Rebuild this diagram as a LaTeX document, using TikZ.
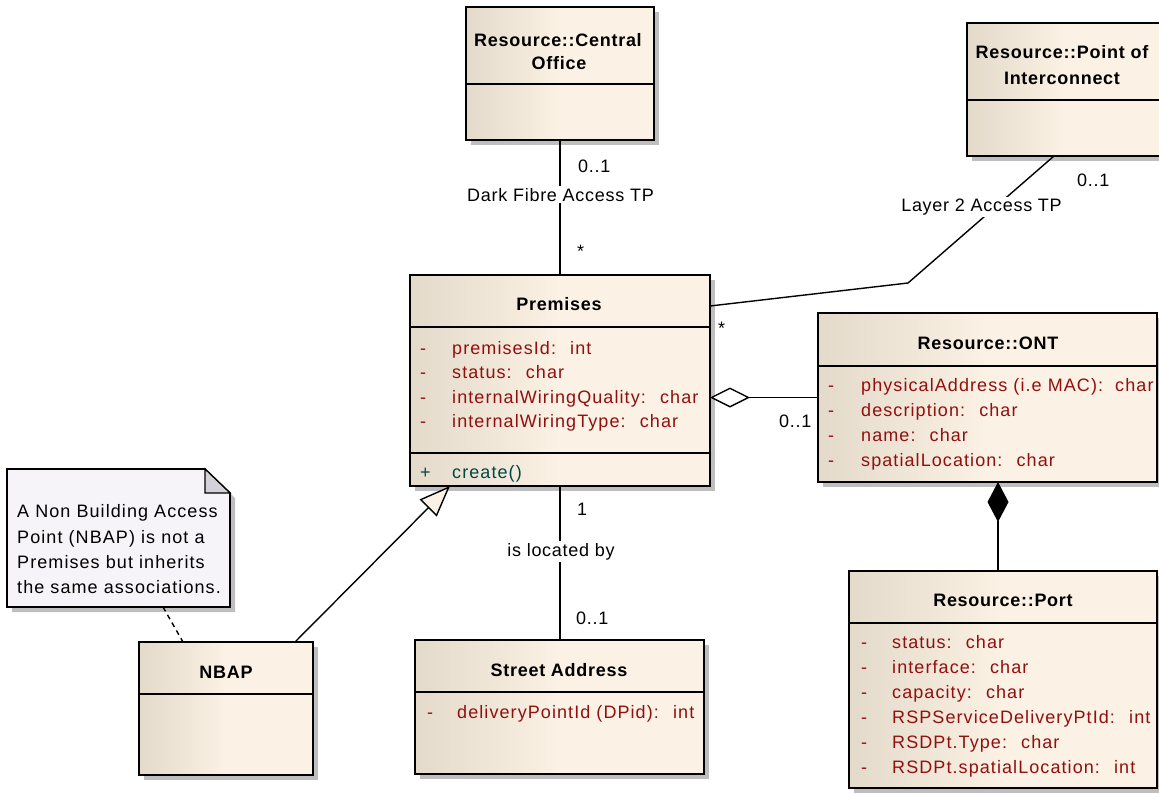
\documentclass[tikz,border=0pt]{standalone}
\usepackage{fontspec}
\setmainfont{Liberation Sans}[LetterSpace=4]
\newfontfamily\memberfont{Liberation Sans}[LetterSpace=6]
\usetikzlibrary{arrows.meta}

\definecolor{boxL}{RGB}{228,218,202}
\definecolor{boxR}{RGB}{251,241,228}
\definecolor{boxShadow}{RGB}{190,190,190}
\definecolor{attrRed}{RGB}{145,15,15}
\definecolor{operTeal}{RGB}{0,70,70}
\definecolor{noteFill}{RGB}{246,244,248}
\definecolor{noteFold}{RGB}{212,209,216}

% class box: name, x1, y1, x2, y2 (with its drop shadow)
\newcommand\umlbox[5]{%
  \fill[boxShadow] (#2+5,#3+5) rectangle (#4+5,#5+5);
  \node[classbox, minimum width={#4-#2}, minimum height={#5-#3}] (#1) at (#2,#3) {};}
% compartment line: box name, offset from the top
\newcommand\umldiv[2]{%
  \draw[divider] ([yshift=-#2pt]#1.north west) -- ([yshift=-#2pt]#1.north east);}
% member line: name, style, x of sign, x of text, baseline, sign, text
\newcommand\member[7]{%
  \node[#2] (#1-s) at (#3,#5) {#6};
  \node[#2] (#1) at (#4,#5) {#7};}

\begin{document}
\begin{tikzpicture}[x=1pt,y=-1pt,
  classbox/.style={draw, line width=1.6pt, inner sep=0pt, outer sep=0pt,
    anchor=north west, left color=boxL, right color=boxR, middle color=boxR},
  divider/.style={line width=1.4pt},
  txt/.style={inner sep=0pt, font=\fontsize{18}{22}\selectfont},
  memtxt/.style={inner sep=0pt, font=\memberfont\fontsize{18}{22}\selectfont},
  title/.style={txt, font=\fontsize{18}{22}\selectfont\bfseries, anchor=base},
  attr/.style={memtxt, text=attrRed, anchor=base west},
  oper/.style={memtxt, text=operTeal, anchor=base west},
  notetxt/.style={memtxt, anchor=base west},
  mult/.style={txt, anchor=base west},
  role/.style={txt, anchor=base, fill=white, inner sep=2pt},
  assoc/.style={line width=1.4pt},
  agg/.style={assoc, arrows={Diamond[length=40pt,width=20pt,fill=white]-}},
  comp/.style={assoc, arrows={Diamond[length=40pt,width=21pt,fill=black]-}},
  gen/.style={assoc, arrows={-Triangle[length=31pt,width=24pt,fill=boxR]}},
  anchorline/.style={line width=1.4pt, dash pattern=on 5pt off 4pt}]

\useasboundingbox (0,0) rectangle (1159,793);

% ---------- classes ----------
\umlbox{co}{466}{7}{654}{140}
\umldiv{co}{77}
\node[title] (co-t1) at (558,46.5) {Resource::Central};
\node[title] (co-t2) at (559,69) {Office};

\umlbox{poi}{967}{23}{1162}{156}
\umldiv{poi}{77}
\node[title] (poi-t1) at (1062,58.5) {Resource::Point of};
\node[title] (poi-t2) at (1062,84) {Interconnect};

\umlbox{prem}{410}{275}{710}{486}
\umldiv{prem}{52}
\umldiv{prem}{178}
\node[title] (prem-t) at (559,310) {Premises};
\member{prem-a1}{attr}{420}{452}{354}{-}{premisesId:~ int}
\member{prem-a2}{attr}{420}{452}{378.5}{-}{status:~ char}
\member{prem-a3}{attr}{420}{452}{403}{-}{internalWiringQuality:~ char}
\member{prem-a4}{attr}{420}{452}{427.5}{-}{internalWiringType:~ char}
\member{prem-o1}{oper}{420}{452}{478}{+}{create()}

\umlbox{ont}{818}{313}{1157}{482}
\umldiv{ont}{53}
\node[title] (ont-t) at (988,349) {Resource::ONT};
\member{ont-a1}{attr}{828}{861}{391}{-}{physicalAddress (i.e MAC):~ char}
\member{ont-a2}{attr}{828}{861}{416}{-}{description:~ char}
\member{ont-a3}{attr}{828}{861}{441}{-}{name:~ char}
\member{ont-a4}{attr}{828}{861}{466}{-}{spatialLocation:~ char}

\umlbox{port}{849}{571}{1157}{788}
\umldiv{port}{52}
\node[title] (port-t) at (1003,606) {Resource::Port};
\member{port-a1}{attr}{861}{892}{648}{-}{status:~ char}
\member{port-a2}{attr}{861}{892}{673}{-}{interface:~ char}
\member{port-a3}{attr}{861}{892}{698}{-}{capacity:~ char}
\member{port-a4}{attr}{861}{892}{723}{-}{RSPServiceDeliveryPtId:~ int}
\member{port-a5}{attr}{861}{892}{748}{-}{RSDPt.Type:~ char}
\member{port-a6}{attr}{861}{892}{773}{-}{RSDPt.spatialLocation:~ int}

\umlbox{nbap}{139}{642}{313}{775}
\umldiv{nbap}{52}
\node[title] (nbap-t) at (226,678) {NBAP};

\umlbox{sa}{415}{640}{704}{774}
\umldiv{sa}{52}
\node[title] (sa-t) at (559,676) {Street Address};
\member{sa-a1}{attr}{427}{457}{718}{-}{deliveryPointId (DPid):~ int}

% ---------- note ----------
\node[inner sep=0pt, outer sep=0pt, anchor=north west,
      minimum width=223pt, minimum height=138pt] (note) at (7,469) {};
\fill[boxShadow] ([xshift=5pt,yshift=-5pt]note.north west)
  -- ([xshift=-20pt,yshift=-5pt]note.north east)
  -- ([xshift=5pt,yshift=-29pt]note.north east)
  -- ([xshift=5pt,yshift=-5pt]note.south east)
  -- ([xshift=5pt,yshift=-5pt]note.south west) -- cycle;
\draw[line width=1.6pt, fill=noteFill] (note.north west)
  -- ([xshift=-25pt]note.north east) -- ([yshift=-24pt]note.north east)
  -- (note.south east) -- (note.south west) -- cycle;
\draw[line width=1.2pt, fill=noteFold] ([xshift=-25pt]note.north east)
  -- ([xshift=-25pt,yshift=-24pt]note.north east)
  -- ([yshift=-24pt]note.north east) -- cycle;
\node[notetxt] (note-l1) at (17,517) {A Non Building Access};
\node[notetxt] (note-l2) at (17,543) {Point (NBAP) is not a};
\node[notetxt] (note-l3) at (17,568) {Premises but inherits};
\node[notetxt] (note-l4) at (17,593) {the same associations.};

% ---------- connectors ----------
\draw[assoc] (co.south) -- (prem.north);
\node[mult] (co-m) at (578,172) {0..1};
\node[role] (co-r) at (560.5,201) {Dark Fibre Access TP};
\node[mult] (co-pm) at (577,257) {*};

\coordinate (l2bend) at (908,283);
\draw[assoc] ([xshift=87pt]poi.south west) -- (l2bend)
  -- ([yshift=-31pt]prem.north east);
\node[role] (poi-r) at (981.5,211.5) {Layer 2 Access TP};
\node[mult] (poi-m) at (1077,186) {0..1};
\node[mult] (poi-pm) at (718,334) {*};

\draw[agg] (prem.east |- ont.west) -- (ont.west);
\node[mult] (ont-m) at (779,427) {0..1};

\coordinate (portTop) at ([xshift=149pt]port.north west);
\draw[comp] (portTop |- ont.south) -- (portTop);

\draw[assoc] (prem.south) -- (prem.south |- sa.north);
\node[mult] (sa-pm) at (577,515) {1};
\node[role] (sa-r) at (561,556) {is located by};
\node[mult] (sa-m) at (576,624) {0..1};

\draw[gen] ([xshift=-18pt]nbap.north east) -- ([xshift=40pt]prem.south west);

\draw[anchorline] ([xshift=156pt]note.south west) -- ([xshift=44pt]nbap.north west);

\end{tikzpicture}
\end{document}
